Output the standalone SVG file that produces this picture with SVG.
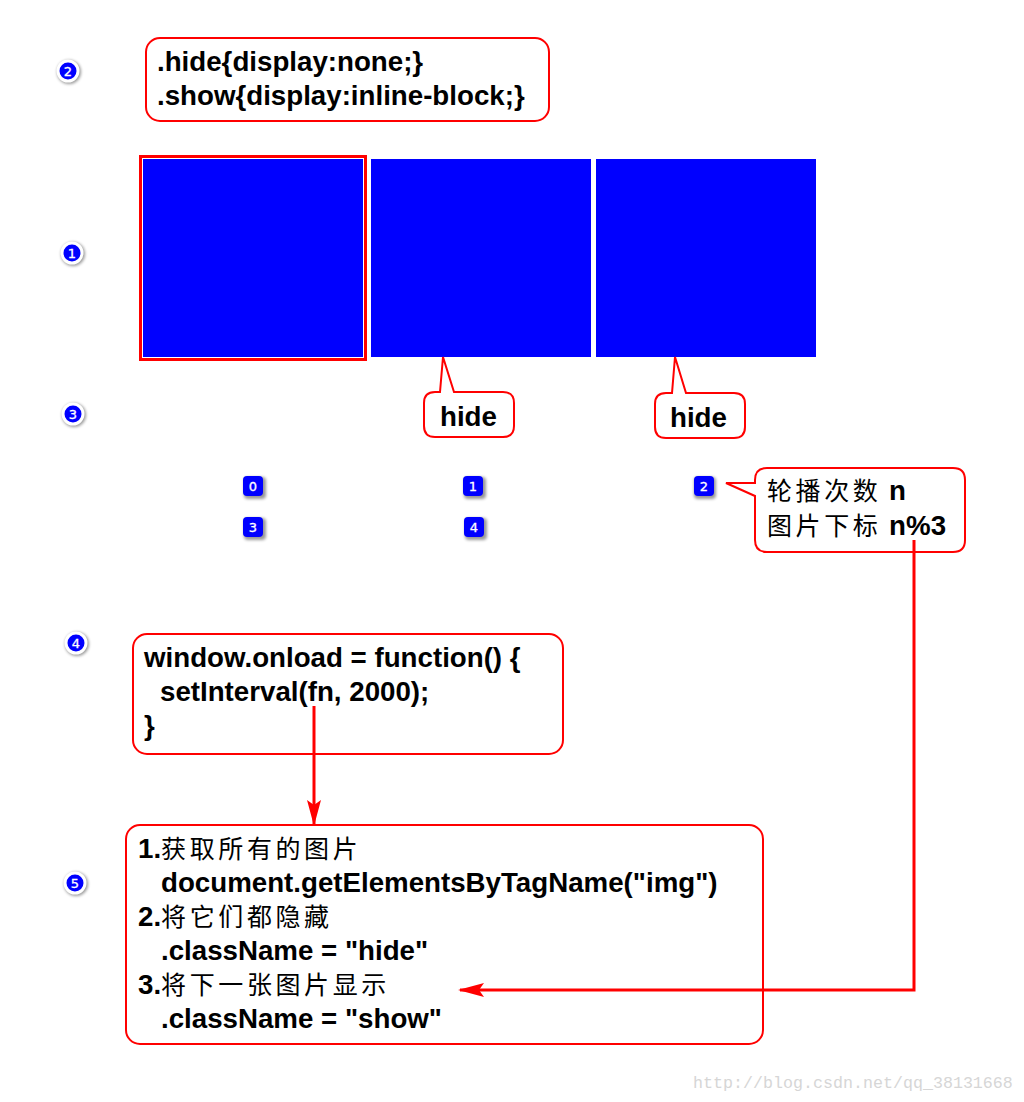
<svg xmlns="http://www.w3.org/2000/svg" width="1024" height="1102" viewBox="0 0 1024 1102">
<style>
.box{fill:#fff;stroke:#f00;stroke-width:2}
.t{font:bold 27.7px "Liberation Sans","Noto Sans CJK SC",sans-serif;fill:#000}
.c{font-weight:normal;font-size:25px;letter-spacing:3.6px}
.line{fill:none;stroke:#f00;stroke-width:3}
.dot{fill:#00f;stroke:#fff;stroke-width:3}
.sq{fill:#00f}
.n{font:13px "DejaVu Sans",sans-serif;fill:#fff;text-anchor:middle;stroke:#fff;stroke-width:.3}
.sh{fill:#000;opacity:.4;filter:url(#blur)}
.wm{font:16.67px "Liberation Mono",monospace;fill:#d6d6d6}
</style>
<defs>
<filter id="blur" x="-50%" y="-50%" width="200%" height="200%"><feGaussianBlur stdDeviation="1.5"/></filter>
<marker id="arrow" viewBox="0 0 26 14" refX="24" refY="7" markerWidth="26" markerHeight="14" markerUnits="userSpaceOnUse" orient="auto"><path d="M0 0L26 7L0 14L5 7Z" fill="#f00"/></marker>
</defs>
<rect width="1024" height="1102" fill="#fff"/>

<g id="step1"><circle class="sh" cx="73" cy="254" r="12"/><circle class="dot" cx="72" cy="253" r="10"/><text class="n" x="72" y="258">1</text></g>
<g id="step2"><circle class="sh" cx="69" cy="72" r="12"/><circle class="dot" cx="68" cy="71" r="10"/><text class="n" x="68" y="76">2</text></g>
<g id="step3"><circle class="sh" cx="74" cy="415" r="12"/><circle class="dot" cx="73" cy="414" r="10"/><text class="n" x="73" y="419">3</text></g>
<g id="step4"><circle class="sh" cx="77" cy="644" r="12"/><circle class="dot" cx="76" cy="643" r="10"/><text class="n" x="76" y="648">4</text></g>
<g id="step5"><circle class="sh" cx="76" cy="884" r="12"/><circle class="dot" cx="75" cy="883" r="10"/><text class="n" x="75" y="888">5</text></g>

<g id="css-box"><rect class="box" x="146" y="38" width="403" height="83" rx="14"/>
<text class="t" x="157" y="71">.hide{display:none;}</text><text class="t" x="157" y="105">.show{display:inline-block;}</text></g>

<g id="image-0"><rect x="140.500" y="156.500" width="225" height="203" fill="#fff" stroke="#f00" stroke-width="3"/><rect class="sq" x="143" y="159" width="220" height="198"/></g>
<g id="image-1"><rect class="sq" x="371" y="159" width="220" height="198"/></g>
<g id="image-2"><rect class="sq" x="596" y="159" width="220" height="198"/></g>

<g id="hide-1"><path class="box" d="M443 357L454 392H503Q514 392 514 403V426Q514 437 503 437H435Q424 437 424 426V403Q424 392 435 392H440Z"/><text class="t" x="440" y="426">hide</text></g>
<g id="hide-2"><path class="box" d="M675 357L686 393H734Q745 393 745 404V427Q745 438 734 438H666Q655 438 655 427V404Q655 393 666 393H672Z"/><text class="t" x="670" y="427">hide</text></g>

<g id="dot-0"><rect class="sh" x="244" y="477" width="22" height="22" rx="4"/><rect class="sq" x="243" y="476" width="20" height="20" rx="4"/><text class="n" x="253" y="491">0</text></g>
<g id="dot-1"><rect class="sh" x="464" y="477" width="22" height="22" rx="4"/><rect class="sq" x="463" y="476" width="20" height="20" rx="4"/><text class="n" x="473" y="491">1</text></g>
<g id="dot-2"><rect class="sh" x="694" y="477" width="22" height="22" rx="4"/><rect class="sq" x="694" y="476" width="20" height="20" rx="4"/><text class="n" x="704" y="491">2</text></g>
<g id="dot-3"><rect class="sh" x="244" y="518" width="22" height="22" rx="4"/><rect class="sq" x="243" y="517" width="20" height="20" rx="4"/><text class="n" x="253" y="532">3</text></g>
<g id="dot-4"><rect class="sh" x="465" y="518" width="22" height="22" rx="4"/><rect class="sq" x="464" y="517" width="20" height="20" rx="4"/><text class="n" x="474" y="532">4</text></g>

<g id="count-box"><path class="box" d="M726 483L755 483V480Q755 468 767 468H953Q965 468 965 480V540Q965 552 953 552H767Q755 552 755 540V496Z"/>
<text class="t" x="767" y="500"><tspan class="c">轮播次数</tspan> n</text><text class="t" x="767" y="535"><tspan class="c">图片下标</tspan> n%3</text></g>

<g id="onload-box"><rect class="box" x="133" y="634" width="430" height="120" rx="14"/>
<text class="t" x="144" y="667">window.onload = function() {</text><text class="t" x="160" y="701">setInterval(fn, 2000);</text><text class="t" x="144" y="735">}</text></g>

<g id="steps-box"><rect class="box" x="126" y="825" width="637" height="219" rx="14"/>
<text class="t" x="138" y="858">1.<tspan class="c">获取所有的图片</tspan></text>
<text class="t" x="161" y="892">document.getElementsByTagName("img")</text>
<text class="t" x="138" y="926">2.<tspan class="c">将它们都隐藏</tspan></text>
<text class="t" x="161" y="960">.className = "hide"</text>
<text class="t" x="138" y="994">3.<tspan class="c">将下一张图片显示</tspan></text>
<text class="t" x="161" y="1028">.className = "show"</text></g>

<g id="connectors">
<path class="line" d="M314 706V824" marker-end="url(#arrow)"/>
<path class="line" d="M914 540V990H460" marker-end="url(#arrow)"/>
</g>
<text class="wm" x="693" y="1088">http://blog.csdn.net/qq_38131668</text>
</svg>
